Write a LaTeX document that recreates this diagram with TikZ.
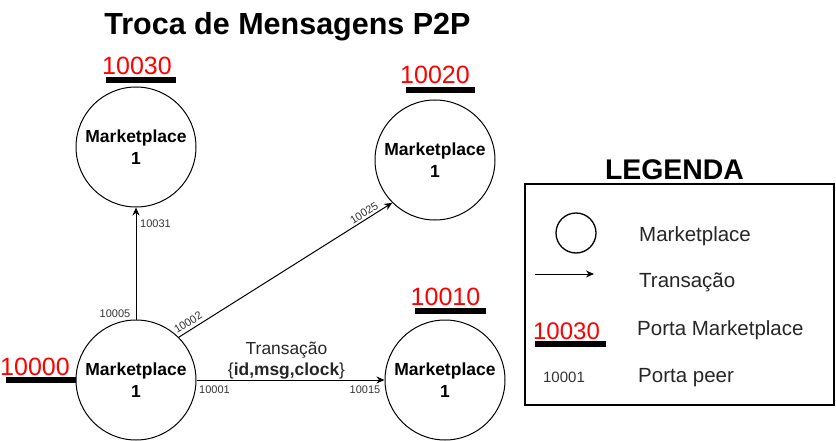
\documentclass[tikz,border=0pt]{standalone}
\usepackage{fontspec}
\setmainfont{Liberation Sans}
\usetikzlibrary{arrows.meta}
\begin{document}
\begin{tikzpicture}[x=1pt,y=-1pt,
  mp/.style={circle, draw, line width=1pt, minimum size=120pt, inner sep=0pt,
    align=center, font=\fontsize{17.5}{22}\selectfont\bfseries},
  tx/.style={-{Stealth[length=8pt,width=7pt]}, line width=1pt},
  porttext/.style={text=red, font=\fontsize{25}{25}\selectfont, inner sep=0pt, anchor=base},
  portbar/.style={line width=6pt},
  peer/.style={font=\fontsize{11}{11}\selectfont, text=black!80, inner sep=0pt},
  legtext/.style={font=\fontsize{20.5}{20.5}\selectfont, text=black!85, anchor=base west, inner sep=0pt},
]
\useasboundingbox (0,0) rectangle (836,441);

% title
\node[font=\fontsize{30.5}{30.5}\selectfont\bfseries, anchor=base] (title) at (287.5,35) {Troca de Mensagens P2P};

% marketplaces
\node[mp] (mp0) at (136,380) {Marketplace\\1};
\node[mp] (mp3) at (136,147) {Marketplace\\1};
\node[mp] (mp2) at (435,160) {Marketplace\\1};
\node[mp] (mp1) at (445,380) {Marketplace\\1};

% marketplace ports
\node[porttext] (p30) at (137,75) {10030};
\draw[portbar] (106,80) -- (176,80);
\node[porttext] (p20) at (435,84) {10020};
\draw[portbar] (406,90) -- (475,90);
\node[porttext] (p10) at (445.5,305) {10010};
\draw[portbar] (415,310.5) -- (486,310.5);
\node[porttext] (p00) at (35,375) {10000};
\coordinate (bar00) at (6,380);
\draw[portbar] (bar00) -- (mp0.west);

% transactions
\draw[tx] (mp0.north) -- (mp3.south);
\draw[tx] (mp0.45) -- (mp2.225);
\draw[tx] (mp0.east) -- node[above, inner sep=0pt, xshift=-4pt, align=center,
    font=\fontsize{17.4}{21}\selectfont, text=black!85] (lbl)
    {Transação\\\{\textbf{id,msg,clock}\}} (mp1.west);

% peer ports
\node[peer] (q05) at (115,314) {10005};
\node[peer] (q31) at (155.5,224) {10031};
\node[peer] (q01) at (214.5,390) {10001};
\node[peer] (q15) at (365,389.5) {10015};
\node[peer, rotate=32] (q02) at (188,322.5) {10002};
\node[peer, rotate=32] (q25) at (364,213) {10025};

% legend
\node[font=\fontsize{28.4}{28.4}\selectfont\bfseries, anchor=base] (legtitle) at (674.5,179) {LEGENDA};
\node[draw, line width=1.3pt, minimum width=309pt, minimum height=221pt, inner sep=0pt] (legbox) at (679.5,294.5) {};
\node[circle, draw, line width=1.3pt, minimum size=40pt, inner sep=0pt] (legcirc) at (576,233) {};
\coordinate (la0) at (535,274);
\coordinate (la1) at (594,274);
\draw[tx] (la0) -- (la1);
\node[porttext, font=\fontsize{24}{24}\selectfont] (legport) at (566.5,339) {10030};
\draw[portbar] (535,343.7) -- (606,343.7);
\node[peer, font=\fontsize{15}{15}\selectfont] (legpeer) at (564,377) {10001};

\node[legtext] (lt1) at (639,241) {Marketplace};
\node[legtext] (lt2) at (639,287) {Transação};
\node[legtext] (lt3) at (637,335) {Porta Marketplace};
\node[legtext] (lt4) at (638,382) {Porta peer};
\end{tikzpicture}
\end{document}
